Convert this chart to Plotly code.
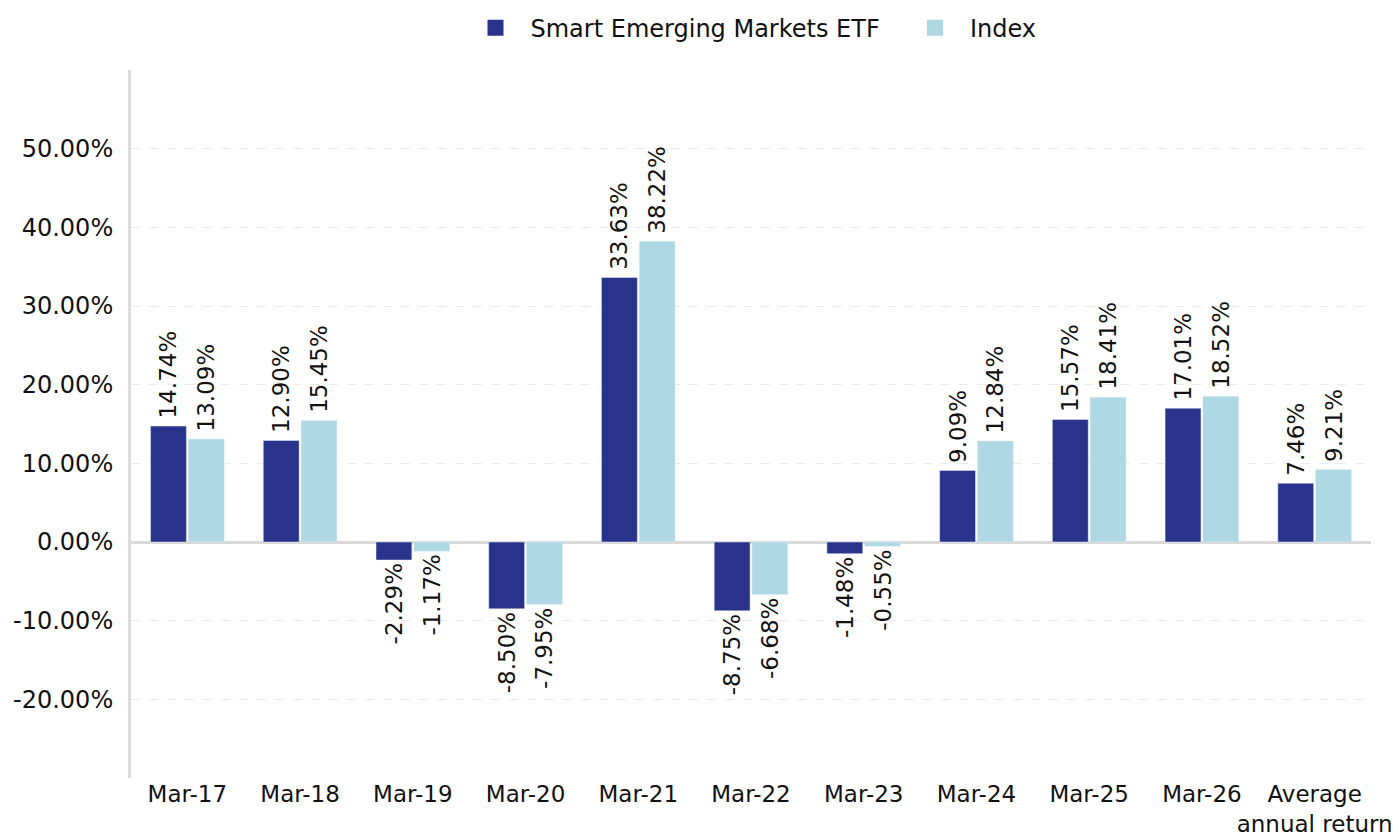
import plotly.graph_objects as go

categories = ["Mar-17", "Mar-18", "Mar-19", "Mar-20", "Mar-21", "Mar-22",
              "Mar-23", "Mar-24", "Mar-25", "Mar-26", "Average<br>annual return"]
etf_values = [14.74, 12.90, -2.29, -8.50, 33.63, -8.75, -1.48, 9.09, 15.57, 17.01, 7.46]
index_values = [13.09, 15.45, -1.17, -7.95, 38.22, -6.68, -0.55, 12.84, 18.41, 18.52, 9.21]
series_names = ["Smart Emerging Markets ETF", "Index"]
series_colors = ["#2a338b", "#add8e4"]
tick_vals = [-20, -10, 0, 10, 20, 30, 40, 50]
tick_text = [f"{v:.2f}%" for v in tick_vals]

FONT = "Verdana, DejaVu Sans, sans-serif"


def labels(vals):
    # thin space on the bar side of positive labels for a little padding
    return [("\u2009" + f"{v:.2f}%") if v >= 0 else f"{v:.2f}%" for v in vals]


fig = go.Figure()
for name, vals, color in zip(series_names, [etf_values, index_values], series_colors):
    fig.add_trace(go.Bar(
        name=name, x=categories, y=vals, marker_color=color,
        text=labels(vals), texttemplate="%{text}", textposition="outside",
        textangle=-90, constraintext="none", cliponaxis=False, showlegend=False,
        textfont=dict(size=23, color="#111", family=FONT)))

# legend entries with larger square swatches
for name, color, pad in zip(series_names, series_colors, ["\u00a0\u00a0", ""]):
    fig.add_trace(go.Scatter(
        name=name + pad, x=[None], y=[None], mode="markers",
        marker=dict(symbol="square", size=22, color=color), showlegend=True))

fig.update_layout(
    width=1399, height=838,
    margin=dict(l=123, r=36, t=62, b=68, autoexpand=False),
    plot_bgcolor="white", paper_bgcolor="white",
    font=dict(family=FONT, size=24, color="#111"),
    barmode="group", bargap=0.33, bargroupgap=0.05,
    showlegend=True,
    legend=dict(orientation="h", x=0.5, xanchor="center",
                yref="container", y=0.976, yanchor="middle",
                font=dict(size=24), itemwidth=60, traceorder="normal",
                itemsizing="trace"),
    xaxis=dict(showgrid=False, showline=False, ticks="", tickangle=0,
               tickfont=dict(size=23)),
    yaxis=dict(range=[-30, 60], tickvals=tick_vals, ticktext=tick_text,
               showgrid=True, gridcolor="#ebebeb", griddash="dash", gridwidth=1,
               zeroline=True, zerolinecolor="#d9d9d9", zerolinewidth=3,
               showline=True, linecolor="#dcdcdc", linewidth=3,
               ticks="", ticklabelstandoff=10, tickfont=dict(size=24)),
)
fig.write_html("out.html")
